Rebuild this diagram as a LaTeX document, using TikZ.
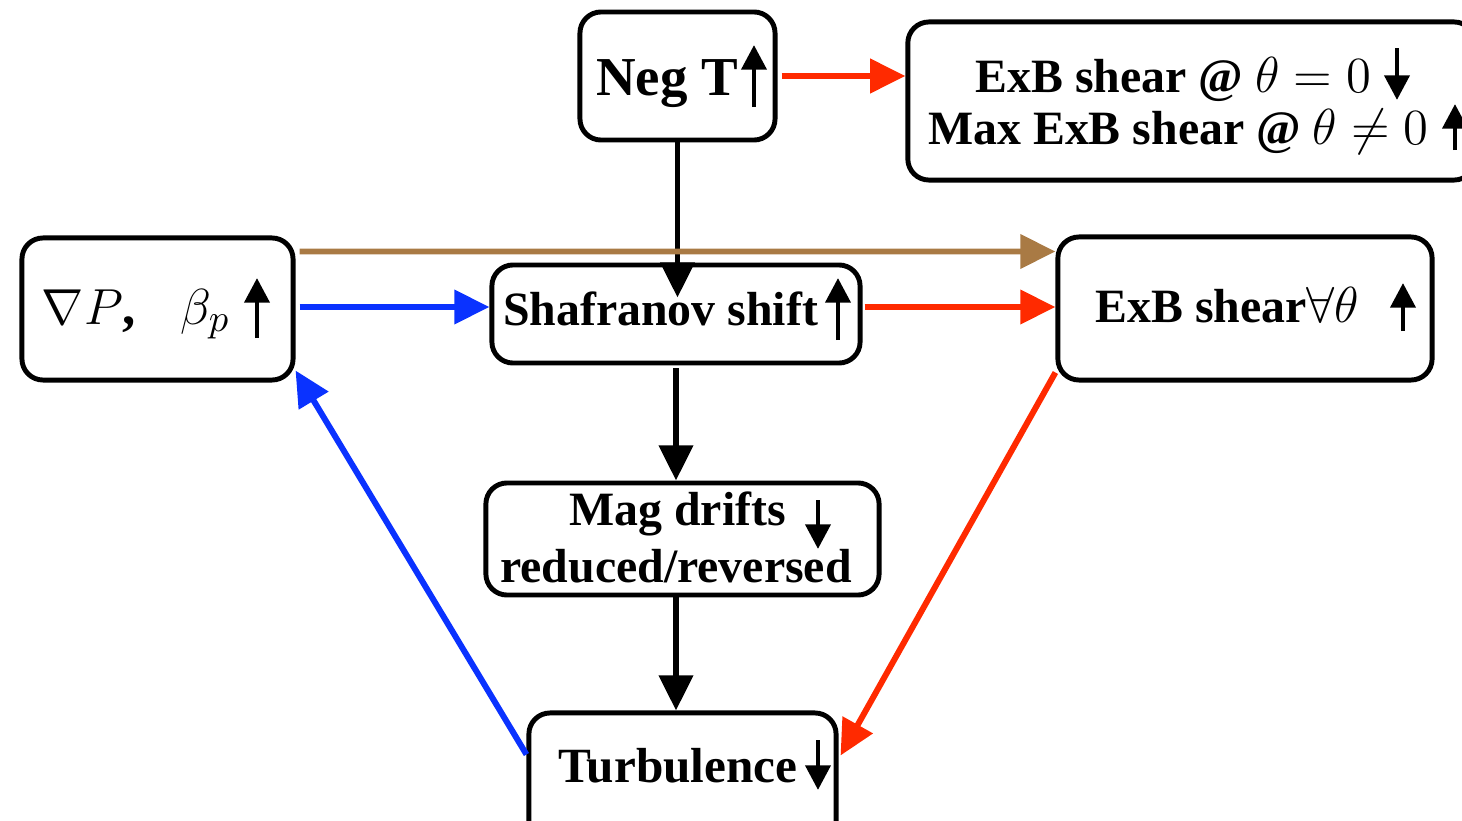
\documentclass[tikz,border=0pt]{standalone}
\usepackage{fontspec}
\setmainfont{Liberation Serif}
\usetikzlibrary{arrows.meta,calc}
\definecolor{cred}{HTML}{FF2A00}
\definecolor{cblue}{HTML}{0A32FF}
\definecolor{cbrown}{HTML}{A97A44}
\begin{document}
\begin{tikzpicture}[x=0.01cm,y=-0.01cm,
 box/.style={draw, line width=1.4pt, rounded corners=6pt, inner sep=0pt},
 lbl/.style={font=\fontsize{13.6}{16}\selectfont\bfseries, anchor=base, inner sep=0pt},
 conn/.style={line width=1.7pt, -{Triangle[length=10pt,width=9.5pt]}},
 tick/.style={line width=1.4pt, -{Triangle[length=7pt,width=7pt]}}]
\useasboundingbox (0,0) rectangle (1462,821);
% boxes
\node[box, minimum width=1.95cm, minimum height=1.28cm] (neg) at (677.5,76) {};
\node[box, minimum width=5.67cm, minimum height=1.58cm] (exbtop) at (1191.5,101) {};
\node[box, minimum width=2.71cm, minimum height=1.42cm] (grad) at (157.5,309) {};
\node[box, minimum width=3.68cm, minimum height=0.98cm] (shaf) at (676,314) {};
\node[box, minimum width=3.74cm, minimum height=1.43cm] (exb) at (1245,308.5) {};
\node[box, minimum width=3.93cm, minimum height=1.12cm] (mag) at (682.5,539) {};
\node[box, minimum width=3.07cm, minimum height=1.40cm] (turb) at (682.5,783) {};
% texts
\node[lbl, font=\fontsize{15.6}{18}\selectfont\bfseries] (tneg) at (667,96) {Neg T};
\node[lbl] (texb1) at (1173.5,92) {ExB shear @ $\theta=0$};
\node[lbl] (texb2) at (1178.5,145) {Max ExB shear @ $\theta\neq 0$};
\node[lbl, font=\fontsize{15}{18}\selectfont] (tgrad) at (136,324) {$\nabla P$\textbf{,}\hspace{0.85em}$\beta_p$};
\node[lbl] (tshaf) at (660.5,326) {Shafranov shift};
\node[lbl] (texb) at (1227.5,322) {ExB shear$\forall\theta$};
\node[lbl] (tmag1) at (677.5,525) {Mag drifts};
\node[lbl] (tmag2) at (676,582) {reduced/reversed};
\node[lbl, font=\fontsize{14}{17}\selectfont\bfseries] (tturb) at (678,782) {Turbulence};
% small up/down arrows in texts
\draw[tick] (754,107) -- (754,45);
\draw[tick] (1397,48) -- (1397,100);
\draw[tick] (1455,150) -- (1455,104);
\draw[tick] (257,338) -- (257,278);
\draw[tick] (838,340) -- (838,278);
\draw[tick] (1403,331) -- (1403,283);
\draw[tick] (818,500) -- (818,549);
\draw[tick] (818,740) -- (818,790);
% connectors
\draw[conn, cred] ($(neg.east)+(4,0)$) -- (neg.east -| exbtop.west);
\draw[conn] (neg.south) -- ($(neg.south |- shaf.north)+(0,35)$);
\draw[conn, cbrown] ($(grad.north east)+(4,16)$) -- ($(exb.north west)+(0,17)$);
\draw[conn, cblue] ($(grad.east)+(4,-2)$) -- ($(grad.east -| shaf.west)+(0,-2)$);
\draw[conn, cred] ($(shaf.east)+(2,-7)$) -- ($(shaf.east -| exb.west)+(0,-7)$);
\draw[conn] (shaf.south |- 0,368) -- (shaf.south |- mag.north);
\draw[conn] (shaf.south |- mag.south) -- (shaf.south |- turb.north);
\draw[conn, cred] ($(exb.south west)+(0,-10)$) -- ($(turb.north east)+(2,45)$);
\draw[conn, cblue] ($(turb.north west)+(0,44)$) -- ($(grad.south east)+(0,-12)$);
\end{tikzpicture}
\end{document}
